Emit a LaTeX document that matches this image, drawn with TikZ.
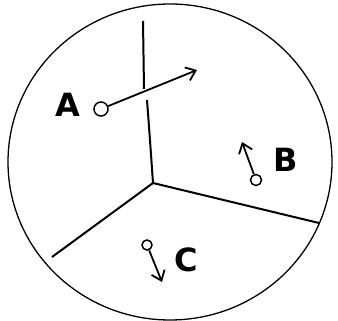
\documentclass[tikz,border=0pt]{standalone}
\usepackage{fontspec}
\setmainfont{DejaVu Sans}
\usepackage{tikz}
\usetikzlibrary{arrows.meta, positioning, calc}
\tikzset{
  rim/.style={draw=black,line width=1.3pt},
  wall/.style={draw=black,line width=2pt},
  pt/.style={circle,draw=black,line width=1.5pt,fill=white,inner sep=0pt},
  lbl/.style={font=\fontsize{32}{34}\selectfont\bfseries,inner sep=0pt},
  mv/.style={-{Straight Barb[length=9pt,width=14pt,line width=1.8pt]},line width=1.8pt}
}
\begin{document}
\begin{tikzpicture}[x=1pt,y=-1pt]
  \useasboundingbox (0,0) rectangle (338,321);
  % outer boundary
  \draw[rim] (170,162) ellipse [x radius=162, y radius=158];

  % region walls
  \coordinate (mid) at (153,183);
  \coordinate (top) at (143,21);
  \coordinate (gapT) at (144,89);
  \coordinate (gapB) at (147,100);
  \coordinate (east) at (319,223);
  \coordinate (west) at (52,257);
  \draw[wall] (top) -- (gapT);
  \draw[wall] (gapB) .. controls (150,140) .. (mid);
  \draw[wall] (mid) -- (east);
  \draw[wall] (mid) -- (west);

  % points and their moves
  \node[pt,minimum size=14pt] (pA) at (101,109) {};
  \node[pt,minimum size=11pt] (pB) at (256,180) {};
  \node[pt,minimum size=10pt] (pC) at (147,245) {};
  \coordinate (toA) at (197,70);
  \coordinate (toB) at (242,142);
  \coordinate (toC) at (162,282);
  \draw[mv] (pA) -- (toA);
  \draw[mv] (pB) -- (toB);
  \draw[mv] (pC) -- (toC);

  \node[lbl] (labA) at (68,105) {A};
  \node[lbl] (labB) at (286,160) {B};
  \node[lbl] (labC) at (186,260) {C};
\end{tikzpicture}
\end{document}
